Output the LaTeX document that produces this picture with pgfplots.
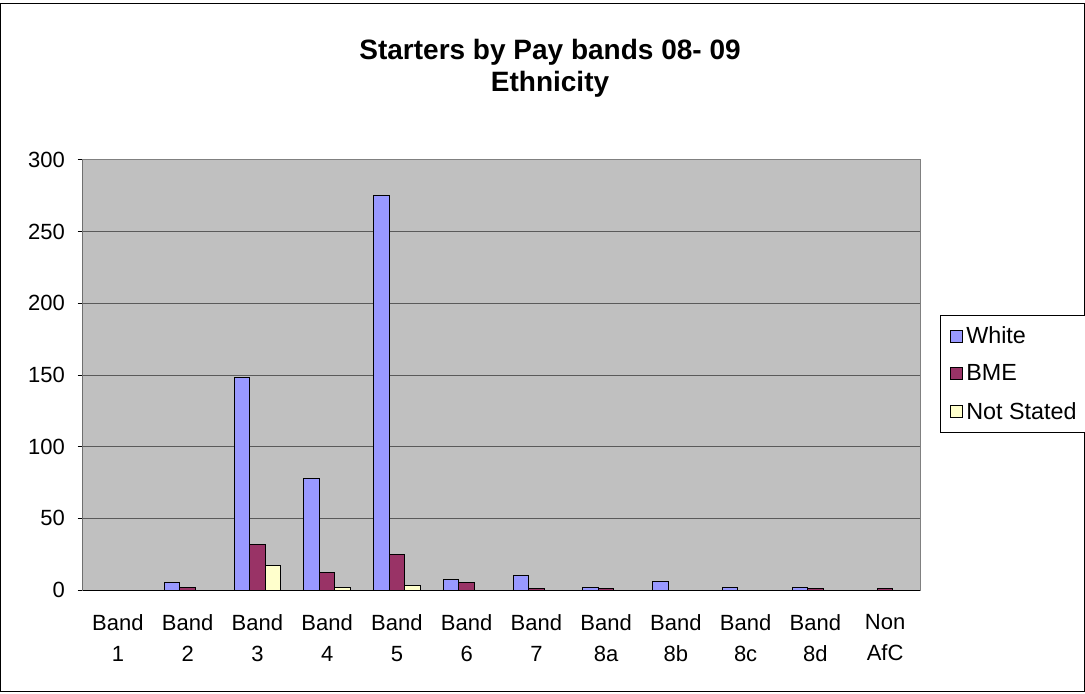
\documentclass[border=0pt]{standalone}
\usepackage{fontspec}
\setmainfont{Liberation Sans}
\usepackage{pgfplots}
\pgfplotsset{compat=1.18}

\definecolor{cWhite}{HTML}{9999FF}
\definecolor{cBME}{HTML}{993366}
\definecolor{cNS}{HTML}{FFFFCC}
\definecolor{plotbg}{HTML}{C0C0C0}
\definecolor{gridc}{HTML}{5A5A5A}

\begin{document}
\begin{tikzpicture}[x=0.75pt,y=0.75pt]
% page and outer frame (1 unit = 1px)
\useasboundingbox (-83,-103) rectangle (1002,590);
\draw[line width=0.75pt,black] (-82.5,-101.5) rectangle (1001.5,586.5);
\begin{axis}[
  scale only axis,
  width=627.75pt, height=322.5pt,
  xmin=-0.5, xmax=11.5,
  ymin=0, ymax=300,
  ytick={0,50,...,300},
  xtick={0,...,11},
  xticklabels={Band\\1,Band\\2,Band\\3,Band\\4,Band\\5,Band\\6,Band\\7,Band\\8a,Band\\8b,Band\\8c,Band\\8d,Non\\AfC},
  minor xtick={-0.5,0.5,...,11.5},
  xtick pos=bottom, ytick pos=left,
  xtick style={draw=none},
  minor x tick style={black,line width=0.75pt},
  ytick style={black,line width=0.75pt},
  tick align=outside,
  major tick length=4pt,
  minor tick length=4pt,
  ymajorgrids,
  major grid style={gridc,line width=0.75pt},
  axis line style={gray,line width=0.75pt},
  axis background/.style={fill=plotbg},
  /pgf/number format/assume math mode=true,
  tick label style={font=\fontsize{16.5}{23.25}\selectfont},
  xticklabel style={align=center,yshift=-11pt},
  yticklabel style={xshift=-6pt},
  ybar=0pt,
  bar width=11.6pt,
  title={Starters by Pay bands 08- 09\\Ethnicity},
  every axis title/.style={at={(0.558,1)},anchor=south,inner sep=0pt,
    yshift=46.5pt,align=center,font=\bfseries\fontsize{21}{24}\selectfont},
  legend style={at={(1.024,0.64)},anchor=north west,draw=black,
    line width=0.75pt,fill=white,
    font=\fontsize{17.5}{21}\selectfont,
    row sep=10.5pt,inner xsep=7pt,inner ysep=6.5pt,
    nodes={inner xsep=2.5pt}},
  legend cell align=left,
  legend image code/.code={\draw[#1,draw=black,line width=0.75pt] (0pt,-4.5pt) rectangle (9pt,4.5pt);},
  every axis plot/.append style={draw=black,line width=0.75pt},
]
\addplot[fill=cWhite] coordinates {(0,0) (1,5) (2,148) (3,78) (4,275) (5,7) (6,10) (7,2) (8,6) (9,2) (10,2) (11,0)};
\addplot[fill=cBME] coordinates {(0,0) (1,2) (2,32) (3,12) (4,25) (5,5) (6,1) (7,1) (8,0) (9,0) (10,1) (11,1)};
\addplot[fill=cNS] coordinates {(0,0) (1,0) (2,17) (3,2) (4,3) (5,0) (6,0) (7,0) (8,0) (9,0) (10,0) (11,0)};
\legend{White,BME,Not Stated\hspace{10pt}}
% black left and bottom axis lines
\draw[black,line width=0.75pt] (rel axis cs:0,1) -- (rel axis cs:0,0) -- (rel axis cs:1,0);
\end{axis}
\end{tikzpicture}
\end{document}
